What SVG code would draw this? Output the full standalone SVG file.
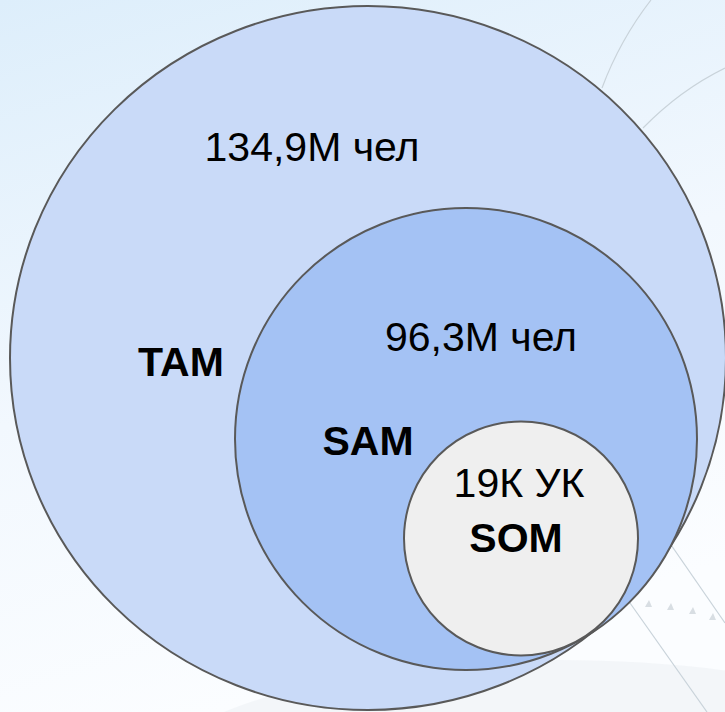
<svg xmlns="http://www.w3.org/2000/svg" width="725" height="712" viewBox="0 0 725 712">
  <defs>
    <linearGradient id="bg" x1="0" y1="0" x2="0.3" y2="1">
      <stop offset="0" stop-color="#ddeefb"/>
      <stop offset="0.55" stop-color="#f2f8fe"/>
      <stop offset="1" stop-color="#fbfdff"/>
    </linearGradient>
    <style>
      .ring { stroke: #595959; stroke-width: 2; }
      .deco { fill: none; stroke: #c9d3da; stroke-width: 1.2; }
      .lbl { font-family: "Liberation Sans", Arial, sans-serif; font-size: 41px; fill: #000000; text-anchor: middle; }
      .b { font-weight: bold; }
    </style>
  </defs>
  <rect x="0" y="0" width="725" height="712" fill="url(#bg)"/>
  <g id="background-decor">
    <ellipse cx="560" cy="790" rx="420" ry="130" fill="#eef2f5" opacity="0.6"/>
    <path class="deco" d="M651,0 Q620,40 602,88"/>
    <path class="deco" d="M725,68 Q680,90 643,128"/>
    <path class="deco" d="M640,500 L725,623"/>
    <path class="deco" d="M630,603 L707,712"/>
    <g fill="#d8dee3">
      <path d="M645,607 L649,600 L652,607 Z"/>
      <path d="M667,610 L671,603 L674,610 Z"/>
      <path d="M689,614 L693,607 L696,614 Z"/>
      <path d="M709,620 L713,613 L716,620 Z"/>
    </g>
  </g>
  <g id="tam">
    <ellipse class="ring" cx="368" cy="358" rx="358" ry="352" fill="#c9daf8"/>
  </g>
  <g id="sam">
    <circle class="ring" cx="466" cy="439" r="231" fill="#a4c2f4"/>
  </g>
  <g id="som">
    <circle class="ring" cx="521" cy="538.5" r="117" fill="#efefef"/>
  </g>
  <g id="labels">
    <text class="lbl" x="312" y="161">134,9М чел</text>
    <text class="lbl b" x="181" y="376">TAM</text>
    <text class="lbl" x="481" y="351">96,3М чел</text>
    <text class="lbl b" x="368" y="455">SAM</text>
    <text class="lbl" x="519" y="497">19К УК</text>
    <text class="lbl b" x="516" y="552">SOM</text>
  </g>
  <g id="connectors"/>
</svg>
